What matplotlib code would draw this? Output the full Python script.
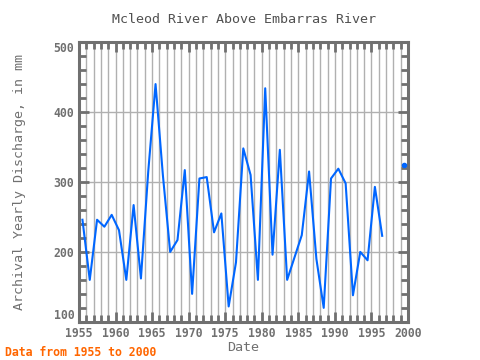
import matplotlib
matplotlib.use("Agg")
import matplotlib.pyplot as plt
import numpy as np
from matplotlib.ticker import MultipleLocator

# yearly discharge (mm)
years = list(range(1955, 2000))
discharge = [246, 160, 246, 236, 253, 231, 160, 267, 162, 315,
             440, 310, 200, 217, 317, 140, 305, 307, 228, 255,
             122, 185, 348, 310, 160, 434, 196, 346, 160, 192,
             224, 315, 190, 120, 305, 319, 298, 138, 200, 188,
             293, 223, np.nan, np.nan, 324]
yticks = [100, 200, 300, 400, 500]

title = "Mcleod River Above Embarras River"
xlabel = "Date"
ylabel = "Archival Yearly Discharge, in mm"
footer = "Data from 1955 to 2000"

mono = "DejaVu Sans Mono"
blue = "#0066ff"
frame = "#707070"
txt = "#707070"

x = np.array(years) + 0.47
y = np.array(discharge, dtype=float)

fig = plt.figure(figsize=(4.8, 3.6), dpi=100)
ax = fig.add_axes([0.1646, 0.106, 0.6854, 0.777])

ax.plot(x, y, color=blue, lw=1.5, zorder=3)

# points with no neighbours get a dot
ok = ~np.isnan(y)
for i in range(len(y)):
    left = i > 0 and ok[i - 1]
    right = i < len(y) - 1 and ok[i + 1]
    if ok[i] and not left and not right:
        ax.plot(x[i], y[i], "o", color=blue, ms=3, zorder=3)

ax.set_xlim(1955, 2000)
ax.set_ylim(100, 500)
ax.xaxis.set_major_locator(MultipleLocator(5))
ax.xaxis.set_minor_locator(MultipleLocator(1))
ax.set_yticks(yticks)
ax.yaxis.set_minor_locator(MultipleLocator(20))

ax.grid(True, which="minor", axis="x", color="#b0b0b0", lw=1.0)
ax.grid(True, which="major", axis="x", color="#b0b0b0", lw=1.0)
ax.grid(True, which="major", axis="y", color="#b0b0b0", lw=1.0)
ax.set_axisbelow(True)

for s in ax.spines.values():
    s.set_color(frame)
    s.set_linewidth(2.2)

ax.tick_params(which="both", direction="in", top=True, right=True,
               color=frame, width=2, labelsize=8.3, labelcolor=txt)
ax.tick_params(which="major", length=7)
ax.tick_params(which="minor", length=5)
for lab in ax.get_xticklabels() + ax.get_yticklabels():
    lab.set_family(mono)
    lab.set_weight("bold")

# end labels sit inside the frame, as in the original
yt = ax.yaxis.get_major_ticks()
yt[0].label1.set_verticalalignment("bottom")
yt[-1].label1.set_verticalalignment("top")

ax.set_title(title, family=mono, fontsize=9.6, color="#505050", pad=14)
ax.set_xlabel(xlabel, family=mono, fontsize=9.6, color=txt, labelpad=1)
ax.set_ylabel(ylabel, family=mono, fontsize=9.6, color=txt, labelpad=20)

fig.text(0.01, 0.01, footer, family=mono, fontsize=8.3, weight="bold",
         color="#ff6600")

fig.savefig("out.png", dpi=100)
